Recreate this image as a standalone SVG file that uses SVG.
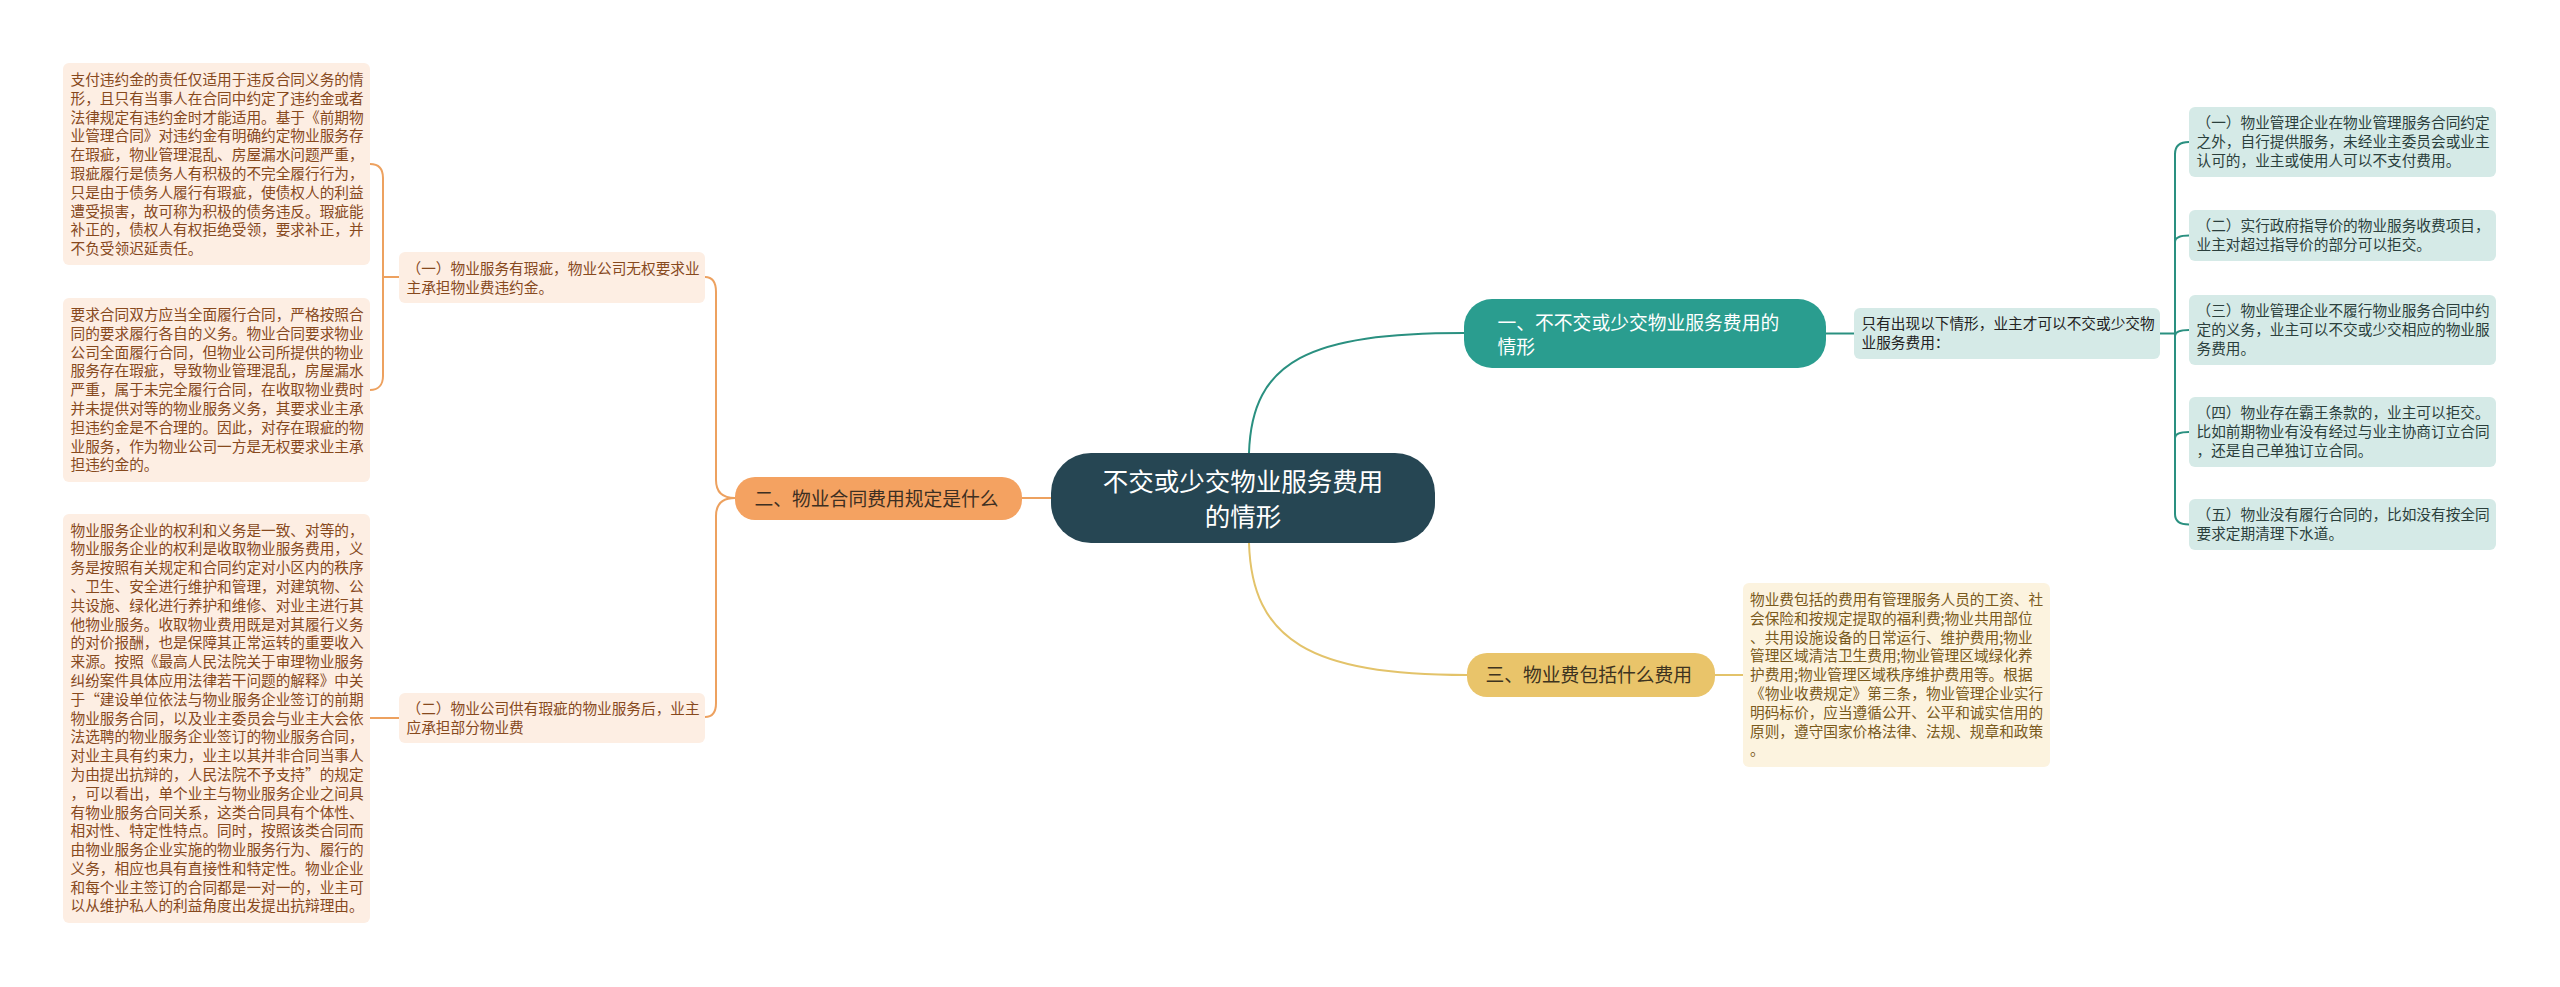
<svg xmlns="http://www.w3.org/2000/svg" width="2560" height="987" viewBox="0 0 2560 987">
<style>
text{font-family:"Noto Sans CJK SC","Noto Sans",sans-serif;}
.leaf{font-size:14.67px;}
.lo{fill:#87491d;}
.lt{fill:#2b3f3c;}
.ly{fill:#7a5a1c;}
.br{font-size:18.8px;}
.co{fill:none;stroke:#eda15f;stroke-width:2;}
.ct{fill:none;stroke:#2a9080;stroke-width:2;}
.cy{fill:none;stroke:#e3c36a;stroke-width:2;}
</style>
<rect width="2560" height="987" fill="#ffffff"/>
<g id="connectors">
<path class="co" d="M1051,498 L1022,498"/>
<path class="co" d="M735,498 C722,498 716,492 716,480 L716,292 C716,282 712,277 705,277"/>
<path class="co" d="M735,498 C722,498 716,504 716,516 L716,703 C716,712 712,717 705,717"/>
<path class="co" d="M399,277 L383,277"/>
<path class="co" d="M370,164 C378,164 383,168 383,178 L383,376 C383,385 378,390 370,390"/>
<path class="co" d="M399,718 L370,718"/>
<path class="ct" d="M1249,453 C1252,360 1310,333 1464,333"/>
<path class="cy" d="M1249,543 C1252,640 1310,675 1467,675"/>
<path class="cy" d="M1715,675 L1743,675"/>
<path class="ct" d="M1826,333.5 L1854,333.5"/>
<path class="ct" d="M2160,333.5 L2175,333.5"/>
<path class="ct" d="M2189,142 C2180,142 2175,146 2175,154 L2175,514 C2175,521 2180,524.5 2189,524.5"/>
<path class="ct" d="M2175,242 C2175,238 2180,235.5 2189,235.5"/>
<path class="ct" d="M2175,336 C2175,332 2180,330 2189,330"/>
<path class="ct" d="M2175,438 C2175,434 2180,432 2189,432"/>
</g>
<g id="center">
<rect x="1051" y="453" width="384" height="90" rx="40" fill="#264653"/>
<text x="1243" y="490.5" font-size="25.5" fill="#ffffff" text-anchor="middle">不交或少交物业服务费用</text>
<text x="1243" y="525.5" font-size="25.5" fill="#ffffff" text-anchor="middle">的情形</text>
</g>
<g id="branch2">
<rect x="735" y="477" width="287" height="43" rx="20" fill="#f4a261"/>
<text class="br" x="754.5" y="506" fill="#3d2f22">二、物业合同费用规定是什么</text>
</g>
<g id="branch1">
<rect x="1464" y="299" width="362" height="69" rx="28" fill="#2a9d8f"/>
<text class="br" x="1497.5" y="330" fill="#ffffff">一、不不交或少交物业服务费用的</text>
<text class="br" x="1497.5" y="353.5" fill="#ffffff">情形</text>
</g>
<g id="branch3">
<rect x="1467" y="653" width="248" height="44" rx="20" fill="#e9c46a"/>
<text class="br" x="1485.5" y="682" fill="#3d3320">三、物业费包括什么费用</text>
</g>
<g id="b2-sub1">
<rect x="399" y="252" width="306" height="51" rx="6" fill="#fdeee3"/>
<text class="leaf lo" x="406.5" y="274">（一）物业服务有瑕疵，物业公司无权要求业</text>
<text class="leaf lo" x="406.5" y="293">主承担物业费违约金。</text>
</g>
<g id="b2-sub2">
<rect x="399" y="693" width="306" height="50" rx="6" fill="#fdeee3"/>
<text class="leaf lo" x="406.5" y="714">（二）物业公司供有瑕疵的物业服务后，业主</text>
<text class="leaf lo" x="406.5" y="733">应承担部分物业费</text>
</g>
<g id="b2-leaf1">
<rect x="63" y="63" width="307" height="202" rx="6" fill="#fdeee3"/>
<text class="leaf lo" x="70.5" y="85">
<tspan x="70.5">支付违约金的责任仅适用于违反合同义务的情</tspan>
<tspan x="70.5" dy="18.8">形，且只有当事人在合同中约定了违约金或者</tspan>
<tspan x="70.5" dy="18.8">法律规定有违约金时才能适用。基于《前期物</tspan>
<tspan x="70.5" dy="18.8">业管理合同》对违约金有明确约定物业服务存</tspan>
<tspan x="70.5" dy="18.8">在瑕疵，物业管理混乱、房屋漏水问题严重，</tspan>
<tspan x="70.5" dy="18.8">瑕疵履行是债务人有积极的不完全履行行为，</tspan>
<tspan x="70.5" dy="18.8">只是由于债务人履行有瑕疵，使债权人的利益</tspan>
<tspan x="70.5" dy="18.8">遭受损害，故可称为积极的债务违反。瑕疵能</tspan>
<tspan x="70.5" dy="18.8">补正的，债权人有权拒绝受领，要求补正，并</tspan>
<tspan x="70.5" dy="18.8">不负受领迟延责任。</tspan>
</text>
</g>
<g id="b2-leaf2">
<rect x="63" y="298" width="307" height="184" rx="6" fill="#fdeee3"/>
<text class="leaf lo" x="70.5" y="320">
<tspan x="70.5">要求合同双方应当全面履行合同，严格按照合</tspan>
<tspan x="70.5" dy="18.8">同的要求履行各自的义务。物业合同要求物业</tspan>
<tspan x="70.5" dy="18.8">公司全面履行合同，但物业公司所提供的物业</tspan>
<tspan x="70.5" dy="18.8">服务存在瑕疵，导致物业管理混乱，房屋漏水</tspan>
<tspan x="70.5" dy="18.8">严重，属于未完全履行合同，在收取物业费时</tspan>
<tspan x="70.5" dy="18.8">并未提供对等的物业服务义务，其要求业主承</tspan>
<tspan x="70.5" dy="18.8">担违约金是不合理的。因此，对存在瑕疵的物</tspan>
<tspan x="70.5" dy="18.8">业服务，作为物业公司一方是无权要求业主承</tspan>
<tspan x="70.5" dy="18.8">担违约金的。</tspan>
</text>
</g>
<g id="b2-leaf3">
<rect x="63" y="514" width="307" height="409" rx="6" fill="#fdeee3"/>
<text class="leaf lo" x="70.5" y="535.5">
<tspan x="70.5">物业服务企业的权利和义务是一致、对等的，</tspan>
<tspan x="70.5" dy="18.8">物业服务企业的权利是收取物业服务费用，义</tspan>
<tspan x="70.5" dy="18.8">务是按照有关规定和合同约定对小区内的秩序</tspan>
<tspan x="70.5" dy="18.8">、卫生、安全进行维护和管理，对建筑物、公</tspan>
<tspan x="70.5" dy="18.8">共设施、绿化进行养护和维修、对业主进行其</tspan>
<tspan x="70.5" dy="18.8">他物业服务。收取物业费用既是对其履行义务</tspan>
<tspan x="70.5" dy="18.8">的对价报酬，也是保障其正常运转的重要收入</tspan>
<tspan x="70.5" dy="18.8">来源。按照《最高人民法院关于审理物业服务</tspan>
<tspan x="70.5" dy="18.8">纠纷案件具体应用法律若干问题的解释》中关</tspan>
<tspan x="70.5" dy="18.8">于“建设单位依法与物业服务企业签订的前期</tspan>
<tspan x="70.5" dy="18.8">物业服务合同，以及业主委员会与业主大会依</tspan>
<tspan x="70.5" dy="18.8">法选聘的物业服务企业签订的物业服务合同，</tspan>
<tspan x="70.5" dy="18.8">对业主具有约束力，业主以其并非合同当事人</tspan>
<tspan x="70.5" dy="18.8">为由提出抗辩的，人民法院不予支持”的规定</tspan>
<tspan x="70.5" dy="18.8">，可以看出，单个业主与物业服务企业之间具</tspan>
<tspan x="70.5" dy="18.8">有物业服务合同关系，这类合同具有个体性、</tspan>
<tspan x="70.5" dy="18.8">相对性、特定性特点。同时，按照该类合同而</tspan>
<tspan x="70.5" dy="18.8">由物业服务企业实施的物业服务行为、履行的</tspan>
<tspan x="70.5" dy="18.8">义务，相应也具有直接性和特定性。物业企业</tspan>
<tspan x="70.5" dy="18.8">和每个业主签订的合同都是一对一的，业主可</tspan>
<tspan x="70.5" dy="18.8">以从维护私人的利益角度出发提出抗辩理由。</tspan>
</text>
</g>
<g id="b1-sub">
<rect x="1854" y="308" width="306" height="51" rx="6" fill="#d5eae7"/>
<text class="leaf" x="1861.5" y="329" fill="#222222">只有出现以下情形，业主才可以不交或少交物</text>
<text class="leaf" x="1861.5" y="348" fill="#222222">业服务费用：</text>
</g>
<g id="b1-leaf1">
<rect x="2189" y="107" width="307" height="70" rx="6" fill="#d5eae7"/>
<text class="leaf lt" x="2196.5" y="128">
<tspan x="2196.5">（一）物业管理企业在物业管理服务合同约定</tspan>
<tspan x="2196.5" dy="18.8">之外，自行提供服务，未经业主委员会或业主</tspan>
<tspan x="2196.5" dy="18.8">认可的，业主或使用人可以不支付费用。</tspan>
</text>
</g>
<g id="b1-leaf2">
<rect x="2189" y="210" width="307" height="51" rx="6" fill="#d5eae7"/>
<text class="leaf lt" x="2196.5" y="231">
<tspan x="2196.5">（二）实行政府指导价的物业服务收费项目，</tspan>
<tspan x="2196.5" dy="18.8">业主对超过指导价的部分可以拒交。</tspan>
</text>
</g>
<g id="b1-leaf3">
<rect x="2189" y="295" width="307" height="70" rx="6" fill="#d5eae7"/>
<text class="leaf lt" x="2196.5" y="316">
<tspan x="2196.5">（三）物业管理企业不履行物业服务合同中约</tspan>
<tspan x="2196.5" dy="18.8">定的义务，业主可以不交或少交相应的物业服</tspan>
<tspan x="2196.5" dy="18.8">务费用。</tspan>
</text>
</g>
<g id="b1-leaf4">
<rect x="2189" y="397" width="307" height="70" rx="6" fill="#d5eae7"/>
<text class="leaf lt" x="2196.5" y="418">
<tspan x="2196.5">（四）物业存在霸王条款的，业主可以拒交。</tspan>
<tspan x="2196.5" dy="18.8">比如前期物业有没有经过与业主协商订立合同</tspan>
<tspan x="2196.5" dy="18.8">，还是自己单独订立合同。</tspan>
</text>
</g>
<g id="b1-leaf5">
<rect x="2189" y="499" width="307" height="51" rx="6" fill="#d5eae7"/>
<text class="leaf lt" x="2196.5" y="520">
<tspan x="2196.5">（五）物业没有履行合同的，比如没有按全同</tspan>
<tspan x="2196.5" dy="18.8">要求定期清理下水道。</tspan>
</text>
</g>
<g id="b3-leaf">
<rect x="1743" y="583" width="307" height="184" rx="6" fill="#fcf3df"/>
<text class="leaf ly" x="1750" y="605">
<tspan x="1750">物业费包括的费用有管理服务人员的工资、社</tspan>
<tspan x="1750" dy="18.8">会保险和按规定提取的福利费;物业共用部位</tspan>
<tspan x="1750" dy="18.8">、共用设施设备的日常运行、维护费用;物业</tspan>
<tspan x="1750" dy="18.8">管理区域清洁卫生费用;物业管理区域绿化养</tspan>
<tspan x="1750" dy="18.8">护费用;物业管理区域秩序维护费用等。根据</tspan>
<tspan x="1750" dy="18.8">《物业收费规定》第三条，物业管理企业实行</tspan>
<tspan x="1750" dy="18.8">明码标价，应当遵循公开、公平和诚实信用的</tspan>
<tspan x="1750" dy="18.8">原则，遵守国家价格法律、法规、规章和政策</tspan>
<tspan x="1750" dy="18.8">。</tspan>
</text>
</g>
</svg>
